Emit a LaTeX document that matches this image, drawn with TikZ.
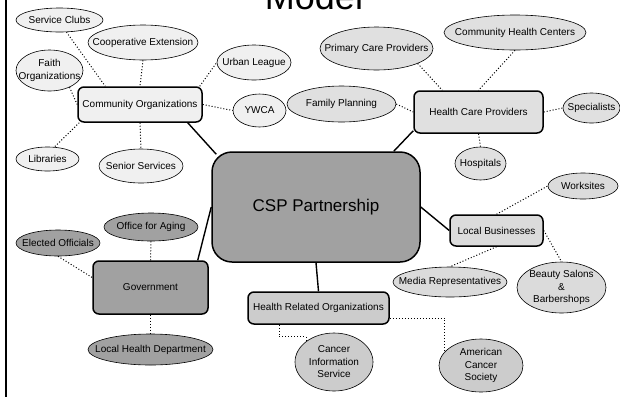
\documentclass[tikz,border=0pt]{standalone}
\usepackage{fontspec}
\setmainfont{Liberation Sans}
\usetikzlibrary{shapes.geometric}

\definecolor{hubgray}{gray}{0.63}
\definecolor{commfill}{gray}{0.94}
\definecolor{carefill}{gray}{0.88}
\definecolor{bizfill}{gray}{0.86}
\definecolor{hrofill}{gray}{0.80}

\begin{document}
\begin{tikzpicture}[x=1pt, y=-1pt,
    hub/.style={draw, line width=1.5pt, rounded corners=6pt, inner sep=0pt, font=\fontsize{10}{12}\selectfont},
    bubble/.style={draw, ellipse, line width=0.6pt, inner sep=0pt, label={[txt]center:#1}},
    txt/.style={align=center, inner sep=0pt, font=\fontsize{10}{12.5}\selectfont},
    spoke/.style={line width=1.4pt},
    link/.style={dotted, line width=1pt}]
    \useasboundingbox (0, 0) rectangle (620, 397);

    \node [anchor=base, font=\fontsize{36}{36}\selectfont] (title) at (314, 9) {Model};
    \draw [line width=2pt] (6, 0) -- (6, 397);

    % partnership and the five groups
    \node [hub, fill=hubgray, rounded corners=20pt, minimum width=208pt, minimum height=110pt, font=\fontsize{17}{20}\selectfont] (csp) at (316, 207) {CSP Partnership};
    \node [hub, fill=commfill, minimum width=124pt, minimum height=35pt] (comm) at (140, 104.5) {Community Organizations};
    \node [hub, fill=carefill, minimum width=129pt, minimum height=42pt] (hcp) at (478.5, 112) {Health Care Providers};
    \node [hub, fill=bizfill, minimum width=93pt, minimum height=31pt] (biz) at (496.5, 230.5) {Local Businesses};
    \node [hub, fill=hubgray, minimum width=115pt, minimum height=53pt] (gov) at (150.5, 287.5) {Government};
    \node [hub, fill=hrofill, minimum width=141pt, minimum height=32pt] (hro) at (318.5, 308) {Health Related Organizations};

    \node [bubble={Service Clubs}, fill=commfill, minimum width=87pt, minimum height=24pt] (clubs) at (59.5, 20) {};
    \node [bubble={Cooperative Extension}, fill=commfill, minimum width=110pt, minimum height=35pt] (coop) at (143, 42.5) {};
    \node [bubble={Faith\\Organizations}, fill=commfill, minimum width=67pt, minimum height=41pt] (faith) at (49.5, 70.5) {};
    \node [bubble={Urban League}, fill=commfill, minimum width=74pt, minimum height=35pt] (urban) at (254, 62.5) {};
    \node [bubble={YWCA}, fill=commfill, minimum width=53pt, minimum height=33pt] (ywca) at (259.5, 110.5) {};
    \node [bubble={Libraries}, fill=commfill, minimum width=63pt, minimum height=24pt] (libs) at (47.5, 159) {};
    \node [bubble={Senior Services}, fill=commfill, minimum width=84pt, minimum height=34pt] (senior) at (141, 166) {};

    \node [bubble={Primary Care Providers}, fill=carefill, minimum width=113pt, minimum height=43pt] (primary) at (376.5, 48.5) {};
    \node [bubble={Community Health Centers}, fill=carefill, minimum width=142pt, minimum height=35pt] (chc) at (515, 32.5) {};
    \node [bubble={Family Planning}, fill=carefill, minimum width=109pt, minimum height=36pt] (family) at (341.5, 104) {};
    \node [bubble={Specialists}, fill=carefill, minimum width=57pt, minimum height=30pt] (spec) at (591.5, 108) {};
    \node [bubble={Hospitals}, fill=carefill, minimum width=51pt, minimum height=33pt] (hosp) at (480.5, 163.5) {};

    \node [bubble={Worksites}, fill=bizfill, minimum width=70pt, minimum height=26pt] (work) at (583, 186) {};
    \node [bubble={Media Representatives}, fill=bizfill, minimum width=114pt, minimum height=30pt] (media) at (450, 282) {};
    \node [bubble={Beauty Salons\\\&\\Barbershops}, fill=bizfill, minimum width=89pt, minimum height=51pt] (salons) at (561.5, 287.5) {};

    \node [bubble={Office for Aging}, fill=hubgray, minimum width=94pt, minimum height=28pt] (aging) at (151, 227) {};
    \node [bubble={Elected Officials}, fill=hubgray, minimum width=84pt, minimum height=26pt] (elected) at (58, 243) {};
    \node [bubble={Local Health Department}, fill=hubgray, minimum width=125pt, minimum height=31pt] (lhd) at (150.5, 349.5) {};

    \node [bubble={Cancer\\Information\\Service}, fill=hrofill, minimum width=78pt, minimum height=58pt] (cis) at (334, 362) {};
    \node [bubble={American\\Cancer\\Society}, fill=hrofill, minimum width=84pt, minimum height=53pt] (acs) at (481, 365.5) {};

    % solid spokes
    \draw [spoke] ([xshift=-15pt]comm.south east) -- ([shift={(5pt,-3pt)}]csp.north west);
    \draw [spoke] ([yshift=3pt]hcp.south west) -- ([xshift=-27pt]csp.north east);
    \draw [spoke] (csp.east) -- (biz.west);
    \draw [spoke] (csp.west) -- ([xshift=-11pt]gov.north east);
    \draw [spoke] (csp.south) -- (hro.north);

    % dotted links
    \draw [link] (clubs.-60) -- ([xshift=28pt]comm.north west);
    \draw [link] (coop.south) -- (comm.north);
    \draw [link] (faith.-40) -- (comm.west);
    \draw [link] ([xshift=-3pt]comm.north east) -- (urban.west);
    \draw [link] (comm.east) -- (ywca.west);
    \draw [link] ([xshift=2pt]comm.south west) -- (libs.60);
    \draw [link] (comm.south) -- (senior.north);

    \draw [link] (primary.-20) -- ([xshift=29pt]hcp.north west);
    \draw [link] (chc.south) -- (hcp.north);
    \draw [link] (family.east) -- (hcp.west);
    \draw [link] (hcp.east) -- (spec.west);
    \draw [link] (hcp.south) -- (hosp.north);

    \draw [link] (biz.north) -- (work.west);
    \draw [link] (biz.south) -- (media.north);
    \draw [link] (biz.east) -- (salons.north);

    \draw [link] (aging.south) -- (gov.north);
    \draw [link] (elected.south) -- ([yshift=10pt]gov.west);
    \draw [link] (gov.south) -- (lhd.north);

    \draw [link] ([xshift=32pt]hro.south west) -- ++(0, 12) -| (cis.north west);
    \draw [link] ([yshift=-10pt]hro.east) -| (acs.160);

\end{tikzpicture}
\end{document}
